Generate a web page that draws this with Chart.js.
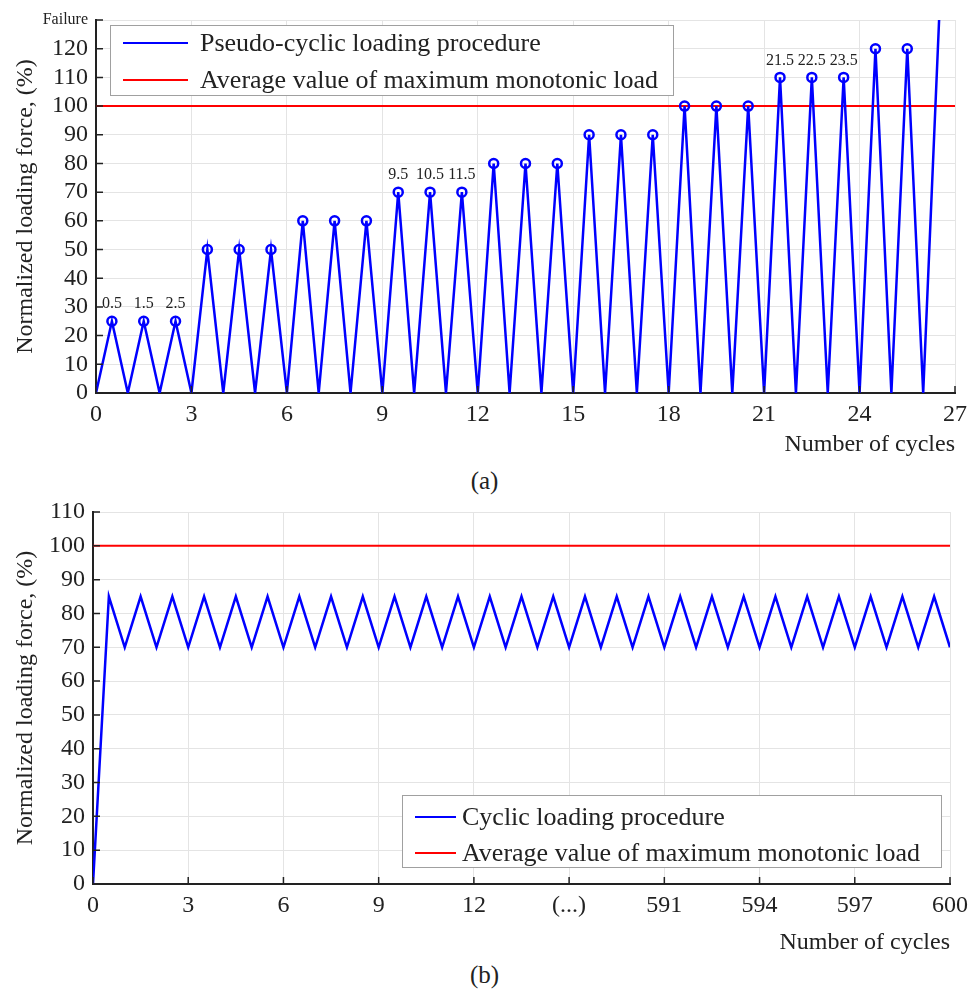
<!DOCTYPE html>
<html>
<head>
<meta charset="utf-8">
<script src="https://cdn.jsdelivr.net/npm/chart.js@4.4.0/dist/chart.umd.min.js"></script>
<style>
  body { margin: 0; background: #fff; }
  #wrap { position: relative; width: 969px; height: 994px; font-family: 'Liberation Serif', serif; color: #222; }
  #boxA { position: absolute; left: 0; top: 0; width: 969px; height: 462px; }
  #boxB { position: absolute; left: 0; top: 495px; width: 969px; height: 465px; }
  .cap { position: absolute; left: 0; width: 969px; text-align: center; font-size: 25px; }
</style>
</head>
<body>
<div id="wrap">
  <div id="boxA"><canvas id="chartA"></canvas></div>
  <div class="cap" style="top:467px">(a)</div>
  <div id="boxB"><canvas id="chartB"></canvas></div>
  <div class="cap" style="top:961px">(b)</div>
</div>
<script>
// (a) pseudo-cyclic loading
const cyclesA = [0, 0.5, 1, 1.5, 2, 2.5, 3, 3.5, 4, 4.5, 5, 5.5, 6, 6.5, 7, 7.5, 8, 8.5, 9, 9.5,
  10, 10.5, 11, 11.5, 12, 12.5, 13, 13.5, 14, 14.5, 15, 15.5, 16, 16.5, 17, 17.5, 18, 18.5, 19, 19.5,
  20, 20.5, 21, 21.5, 22, 22.5, 23, 23.5, 24, 24.5, 25, 25.5, 26, 26.5]
const loadA = [0, 25, 0, 25, 0, 25, 0, 50, 0, 50, 0, 50, 0, 60, 0, 60, 0, 60, 0, 70,
  0, 70, 0, 70, 0, 80, 0, 80, 0, 80, 0, 90, 0, 90, 0, 90, 0, 100, 0, 100,
  0, 100, 0, 110, 0, 110, 0, 110, 0, 120, 0, 120, 0, 130]
const labelledPeaksA = [0.5, 1.5, 2.5, 9.5, 10.5, 11.5, 21.5, 22.5, 23.5]
const monoXA = [0, 27]
const monoYA = [100, 100]

// (b) cyclic loading, x given as position on the broken axis
const positionB = [0, 0.5, 1, 1.5, 2, 2.5, 3, 3.5, 4, 4.5, 5, 5.5, 6, 6.5, 7, 7.5, 8, 8.5, 9, 9.5,
  10, 10.5, 11, 11.5, 12, 12.5, 13, 13.5, 14, 14.5, 15, 15.5, 16, 16.5, 17, 17.5, 18, 18.5, 19, 19.5,
  20, 20.5, 21, 21.5, 22, 22.5, 23, 23.5, 24, 24.5, 25, 25.5, 26, 26.5, 27]
const loadB = [0, 85, 70, 85, 70, 85, 70, 85, 70, 85, 70, 85, 70, 85, 70, 85, 70, 85, 70, 85,
  70, 85, 70, 85, 70, 85, 70, 85, 70, 85, 70, 85, 70, 85, 70, 85, 70, 85, 70, 85,
  70, 85, 70, 85, 70, 85, 70, 85, 70, 85, 70, 85, 70, 85, 70]
const tickLabelsB = ['0', '3', '6', '9', '12', '(...)', '591', '594', '597', '600']
const monoXB = [0, 27]
const monoYB = [100, 100]

const FONT = "'Liberation Serif', serif"
const INK = '#222'
const BLUE = '#0000ff'
const RED = '#ff0000'

function pts(xs, ys) {
    return xs.map((x, i) => ({ x: x, y: ys[i] }))
}

// small ticks pointing into the plot
const innerTicks = {
    id: 'innerTicks',
    afterDatasetsDraw(chart) {
        const { ctx, chartArea, scales } = chart
        ctx.save()
        ctx.strokeStyle = INK
        ctx.lineWidth = 1.5
        ctx.beginPath()
        scales.x.ticks.forEach(t => {
            const px = scales.x.getPixelForValue(t.value)
            ctx.moveTo(px, chartArea.bottom)
            ctx.lineTo(px, chartArea.bottom - 7)
        })
        scales.y.ticks.forEach(t => {
            const py = scales.y.getPixelForValue(t.value)
            ctx.moveTo(chartArea.left, py)
            ctx.lineTo(chartArea.left + 7, py)
        })
        ctx.stroke()
        ctx.restore()
    }
}

// legend box drawn inside the plot
const boxLegend = {
    id: 'boxLegend',
    afterDatasetsDraw(chart, args, o) {
        const { ctx, chartArea } = chart
        const x = chartArea.left + o.x
        const y = chartArea.top + o.y
        ctx.save()
        ctx.fillStyle = '#fff'
        ctx.fillRect(x, y, o.width, o.height)
        ctx.strokeStyle = '#a0a0a0'
        ctx.lineWidth = 1
        ctx.strokeRect(x + 0.5, y + 0.5, o.width, o.height)
        ctx.font = o.fontSize + 'px ' + FONT
        ctx.textBaseline = 'middle'
        chart.data.datasets.forEach((ds, i) => {
            const ly = y + o.rowTop + i * o.rowGap
            ctx.strokeStyle = ds.borderColor
            ctx.lineWidth = 2
            ctx.beginPath()
            ctx.moveTo(x + o.lineStart, ly)
            ctx.lineTo(x + o.lineEnd, ly)
            ctx.stroke()
            ctx.fillStyle = INK
            ctx.fillText(ds.label, x + o.textStart, ly + 1)
        })
        ctx.restore()
    }
}

// value labels above some peaks
const peakLabels = {
    id: 'peakLabels',
    afterDatasetsDraw(chart, args, o) {
        if (!o.peaks) return
        const { ctx, scales } = chart
        ctx.save()
        ctx.font = '16px ' + FONT
        ctx.fillStyle = INK
        ctx.textAlign = 'center'
        ctx.textBaseline = 'middle'
        o.peaks.forEach(c => {
            const i = cyclesA.indexOf(c)
            const px = scales.x.getPixelForValue(c)
            const py = scales.y.getPixelForValue(loadA[i])
            ctx.fillText(String(c), px, py - 17)
        })
        ctx.restore()
    }
}

function axes(yMax, xLabel, yWidth, xHeight) {
    return {
        x: {
            type: 'linear', min: 0, max: 27,
            afterFit: s => { s.height = xHeight; s.paddingLeft = 0; s.paddingRight = 0 },
            grid: { color: '#e4e4e4', lineWidth: 1, drawTicks: false },
            border: { color: INK, width: 2 },
            ticks: {
                stepSize: 3, autoSkip: false, maxRotation: 0, padding: 7, color: INK,
                font: { family: FONT, size: 24 },
                callback: xLabel
            },
            title: {
                display: true, text: 'Number of cycles', align: 'end', color: INK,
                font: { family: FONT, size: 24 }, padding: { top: 4, bottom: 3 }
            }
        },
        y: {
            min: 0, max: yMax,
            afterFit: s => { s.width = yWidth; s.paddingTop = 0; s.paddingBottom = 0 },
            grid: { color: '#e4e4e4', lineWidth: 1, drawTicks: false },
            border: { color: INK, width: 2 },
            ticks: {
                stepSize: 10, autoSkip: false, padding: 8, color: INK,
                font: ctx => ({ family: FONT, size: ctx.tick && ctx.tick.value === 130 ? 16 : 24 }),
                callback: v => v === 130 ? 'Failure' : v
            },
            title: {
                display: true, text: 'Normalized loading force, (%)', color: INK,
                font: { family: FONT, size: 24 }, padding: { top: 11, bottom: 0 }
            }
        }
    }
}

const chartA = new Chart(document.getElementById('chartA'), {
    type: 'scatter',
    data: {
        datasets: [{
            label: 'Pseudo-cyclic loading procedure',
            data: pts(cyclesA, loadA),
            showLine: true,
            borderColor: BLUE,
            borderWidth: 2.5,
            pointRadius: ctx => (ctx.dataIndex % 2 === 1 && ctx.dataIndex < loadA.length - 1) ? 4.5 : 0,
            pointBorderWidth: 2.5,
            pointBorderColor: BLUE,
            pointBackgroundColor: 'rgba(0,0,0,0)'
        }, {
            label: 'Average value of maximum monotonic load',
            data: pts(monoXA, monoYA),
            showLine: true,
            borderColor: RED,
            borderWidth: 2,
            pointRadius: 0
        }]
    },
    options: {
        animation: false,
        responsive: true,
        maintainAspectRatio: false,
        layout: { padding: { top: 20, right: 14, left: 0, bottom: 0 } },
        scales: axes(130, v => v, 96, 69),
        plugins: {
            legend: { display: false },
            tooltip: { enabled: false },
            boxLegend: { x: 14, y: 5, width: 563, height: 70, rowTop: 18, rowGap: 37, lineStart: 13, lineEnd: 78, textStart: 90, fontSize: 26 },
            peakLabels: { peaks: labelledPeaksA }
        }
    },
    plugins: [innerTicks, boxLegend, peakLabels]
});

const chartB = new Chart(document.getElementById('chartB'), {
    type: 'scatter',
    data: {
        datasets: [{
            label: 'Cyclic loading procedure',
            data: pts(positionB, loadB),
            showLine: true,
            borderColor: BLUE,
            borderWidth: 2.5,
            pointRadius: 0
        }, {
            label: 'Average value of maximum monotonic load',
            data: pts(monoXB, monoYB),
            showLine: true,
            borderColor: RED,
            borderWidth: 2,
            pointRadius: 0
        }]
    },
    options: {
        animation: false,
        responsive: true,
        maintainAspectRatio: false,
        layout: { padding: { top: 17, right: 19, left: 0, bottom: 0 } },
        scales: axes(110, (v, i) => tickLabelsB[i], 93, 76),
        plugins: {
            legend: { display: false },
            tooltip: { enabled: false },
            boxLegend: { x: 309, y: 283, width: 539, height: 72, rowTop: 22, rowGap: 36, lineStart: 13, lineEnd: 54, textStart: 60, fontSize: 26 },
            peakLabels: {}
        }
    },
    plugins: [innerTicks, boxLegend, peakLabels]
});
</script>
</body>
</html>
